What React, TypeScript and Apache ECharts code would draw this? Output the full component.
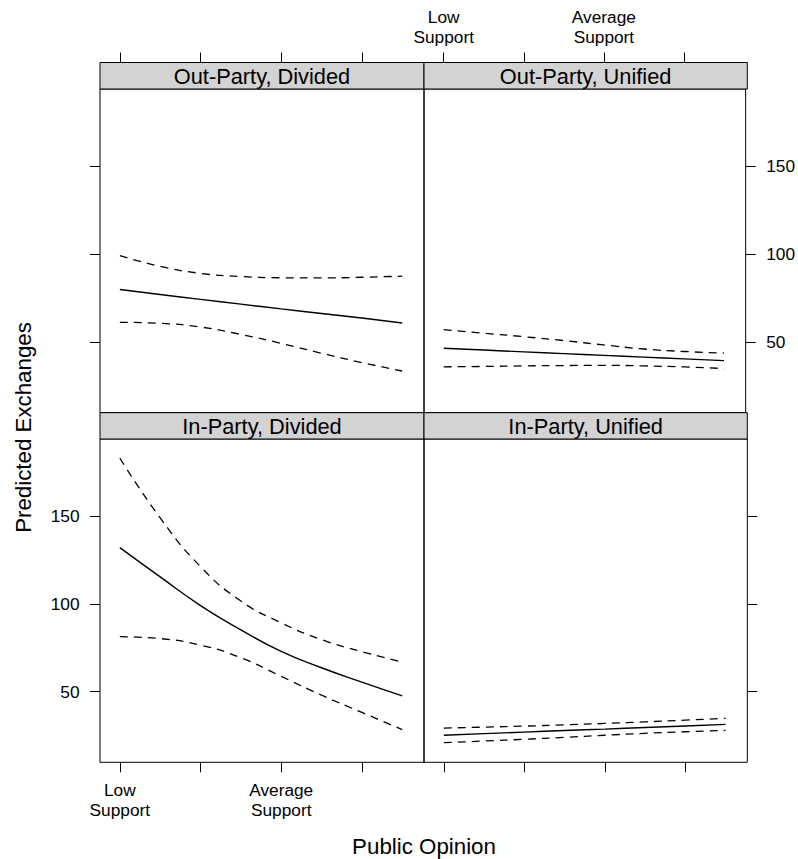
import React, { useEffect, useRef } from "react";
import * as echarts from "echarts";

// x positions of the fitted curves (Public Opinion scale, Low Support = 0, Average Support = 2)
const xValues = [0, 0.5, 1, 1.5, 2, 2.5, 3, 3.5];

// Out-Party, Divided
const odFit = [79.8, 77.0, 74.2, 71.5, 68.8, 66.2, 63.6, 60.8];
const odUpper = [99.1, 93.0, 89.0, 87.2, 86.5, 86.4, 86.8, 87.4];
const odLower = [61.2, 60.6, 58.5, 54.3, 49.2, 43.6, 38.3, 33.5];
// Out-Party, Unified
const ouFit = [46.4, 45.4, 44.4, 43.4, 42.4, 41.4, 40.4, 39.4];
const ouUpper = [57.0, 55.0, 53.0, 50.8, 48.3, 46.0, 44.6, 43.7];
const ouLower = [35.9, 36.1, 36.4, 36.6, 36.7, 36.4, 35.8, 34.9];
// In-Party, Divided
const idFit = [132.0, 115.3, 99.0, 85.2, 72.9, 63.6, 55.4, 47.6];
const idUpper = [183.0, 148.9, 121.2, 101.6, 89.2, 79.6, 72.8, 66.8];
const idLower = [81.3, 80.2, 76.5, 69.3, 58.7, 48.0, 38.2, 28.4];
// In-Party, Unified
const iuFit = [25.2, 26.1, 27.0, 27.9, 28.7, 29.6, 30.5, 31.4];
const iuUpper = [29.3, 29.8, 30.4, 31.1, 31.9, 32.8, 33.8, 34.8];
const iuLower = [21.0, 21.9, 22.9, 24.0, 25.2, 26.3, 27.2, 28.0];

const panelNames = ["Out-Party, Divided", "Out-Party, Unified", "In-Party, Divided", "In-Party, Unified"];

const xTickValues = [0, 1, 2, 3];
const xLabelValues = [0, 2];
const xLabelTexts = ["Low\nSupport", "Average\nSupport"];
const yTickValues = [50, 100, 150];

const X_MIN = -0.246;
const X_MAX = 3.77;
const Y_MIN = 9.8;
const Y_MAX = 193.8;

const FONT = "'Liberation Sans', Arial, Helvetica, sans-serif";

export default function App() {
  const ref = useRef<HTMLDivElement>(null);

  useEffect(() => {
    document.body.style.margin = "0";
    if (!ref.current) return;
    const chart = echarts.init(ref.current, undefined, { renderer: "svg" });

    const grids = [
      { left: 100, top: 89, width: 324, height: 323.7 },
      { left: 424, top: 89, width: 323.3, height: 323.7 },
      { left: 100, top: 439, width: 324, height: 323.3 },
      { left: 424, top: 439, width: 323.3, height: 323.3 },
    ];

    const panelData = [
      [odFit, odUpper, odLower],
      [ouFit, ouUpper, ouLower],
      [idFit, idUpper, idLower],
      [iuFit, iuUpper, iuLower],
    ];

    const isTop = [true, true, false, false];
    const isLeft = [true, false, true, false];
    const xLabeled = [false, true, true, false];
    const yLabeled = [false, true, true, false];

    const xAxes = grids.map((_, i) => ({
      gridIndex: i,
      type: "value",
      min: X_MIN,
      max: X_MAX,
      position: isTop[i] ? "top" : "bottom",
      offset: isTop[i] ? 26.5 : 0,
      axisLine: { show: false, onZero: false },
      splitLine: { show: false },
      axisTick: {
        show: true,
        length: 10,
        customValues: xTickValues,
        lineStyle: { color: "#000", width: 1 },
      },
      axisLabel: {
        show: xLabeled[i],
        customValues: xLabelValues,
        formatter: (v: number) => {
          const k = xLabelValues.indexOf(Math.round(v * 1000) / 1000);
          return k >= 0 ? xLabelTexts[k] : "";
        },
        margin: isTop[i] ? 16 : 18,
        fontSize: 17.3,
        lineHeight: 19.5,
        color: "#000",
        fontFamily: FONT,
      },
    }));

    const yAxes = grids.map((_, i) => ({
      gridIndex: i,
      type: "value",
      min: Y_MIN,
      max: Y_MAX,
      position: isLeft[i] ? "left" : "right",
      axisLine: { show: false, onZero: false },
      splitLine: { show: false },
      axisTick: {
        show: true,
        length: 10,
        customValues: yTickValues,
        lineStyle: { color: "#000", width: 1 },
      },
      axisLabel: {
        show: yLabeled[i],
        customValues: yTickValues,
        margin: 20.5,
        fontSize: 17.3,
        color: "#000",
        fontFamily: FONT,
      },
    }));

    const series: any[] = [];
    panelData.forEach((arrs, i) => {
      arrs.forEach((arr, j) => {
        series.push({
          type: "line",
          xAxisIndex: i,
          yAxisIndex: i,
          data: xValues.map((x, k) => [x, arr[k]]),
          showSymbol: false,
          symbol: "none",
          smooth: 0.5,
          silent: true,
          lineStyle: {
            color: "#000",
            width: j === 0 ? 1.4 : 1.3,
            type: j === 0 ? "solid" : [8, 6],
          },
        });
      });
    });

    const stripH = [26.5, 26.5, 26.3, 26.3];
    const graphics: any[] = [];
    grids.forEach((g, i) => {
      const sy = g.top - stripH[i];
      graphics.push({
        type: "rect",
        shape: { x: g.left, y: sy, width: g.width, height: stripH[i] },
        style: { fill: "#d3d3d3", stroke: "#000", lineWidth: 1 },
        z: 10,
      });
      graphics.push({
        type: "text",
        x: g.left + g.width / 2,
        y: sy + stripH[i] / 2 + 0.5,
        style: {
          text: panelNames[i],
          fill: "#000",
          font: `21.8px ${FONT}`,
          textAlign: "center",
          textVerticalAlign: "middle",
        },
        z: 11,
      });
    });
    graphics.push({
      type: "text",
      x: 23,
      y: 427.5,
      rotation: Math.PI / 2,
      style: {
        text: "Predicted Exchanges",
        fill: "#000",
        font: `22.3px ${FONT}`,
        textAlign: "center",
        textVerticalAlign: "middle",
      },
    });
    graphics.push({
      type: "text",
      x: 424,
      y: 846,
      style: {
        text: "Public Opinion",
        fill: "#000",
        font: `22.3px ${FONT}`,
        textAlign: "center",
        textVerticalAlign: "middle",
      },
    });

    chart.setOption({
      animation: false,
      backgroundColor: "#fff",
      textStyle: { fontFamily: FONT },
      grid: grids.map((g) => ({
        ...g,
        show: true,
        borderColor: "#000",
        borderWidth: 1,
        backgroundColor: "transparent",
        containLabel: false,
      })),
      xAxis: xAxes,
      yAxis: yAxes,
      series,
      graphic: graphics,
    });

    return () => chart.dispose();
  }, []);

  return <div ref={ref} style={{ width: 798, height: 859 }} />;
}
